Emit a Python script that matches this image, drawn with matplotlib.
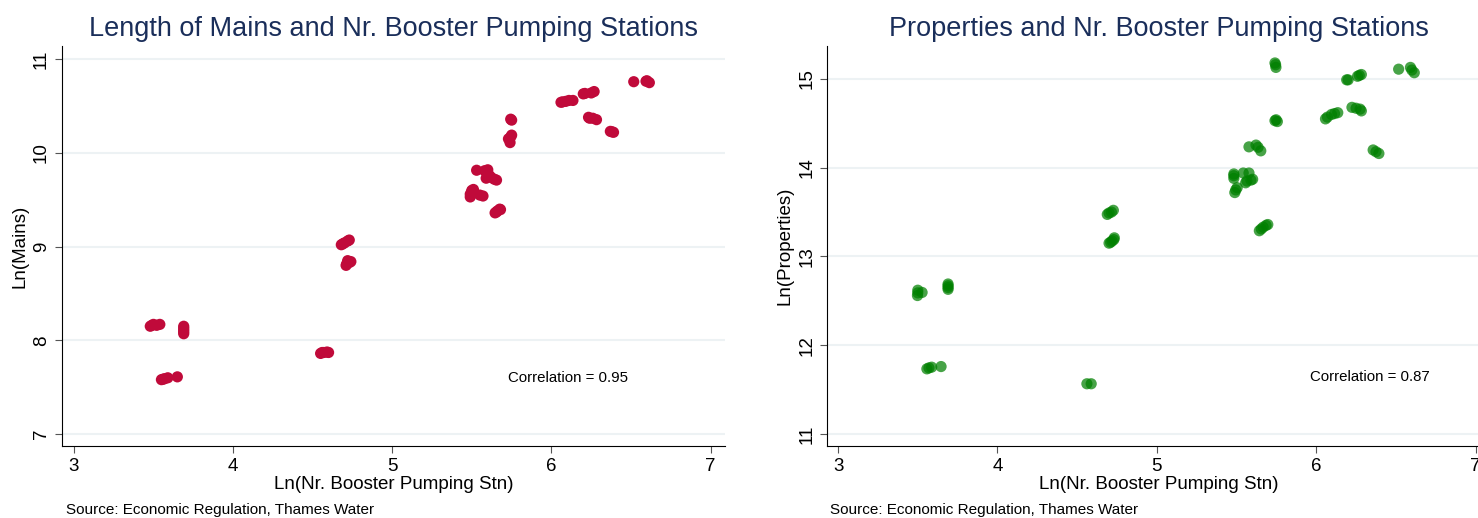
import numpy as np
import matplotlib.pyplot as plt

plt.rcParams['font.family'] = ['Liberation Sans', 'DejaVu Sans']

# log number of booster pumping stations vs log length of mains
mains_x = [3.48, 3.49, 3.50, 3.52, 3.54, 3.69, 3.69, 3.69, 3.69, 3.69,
           3.55, 3.56, 3.57, 3.59, 3.65, 4.55, 4.56, 4.57, 4.59, 4.60,
           4.68, 4.69, 4.70, 4.72, 4.73, 4.71, 4.715, 4.72, 4.73, 4.74,
           5.49, 5.49, 5.50, 5.51, 5.50, 5.57, 5.55, 5.53, 5.58, 5.60, 5.59, 5.61,
           5.62, 5.64, 5.655, 5.646, 5.655, 5.66, 5.675, 5.68,
           5.744, 5.75, 5.744, 5.74, 5.75, 5.73,
           6.06, 6.07, 6.09, 6.11, 6.135, 6.20, 6.21, 6.25, 6.268,
           6.233, 6.24, 6.26, 6.283, 6.37, 6.38, 6.39, 6.517, 6.594, 6.60, 6.615]
mains_y = [8.15, 8.16, 8.17, 8.16, 8.17, 8.07, 8.09, 8.11, 8.13, 8.15,
           7.58, 7.585, 7.59, 7.60, 7.61, 7.86, 7.87, 7.87, 7.875, 7.87,
           9.02, 9.03, 9.04, 9.06, 9.07, 8.80, 8.82, 8.85, 8.83, 8.84,
           9.53, 9.56, 9.59, 9.61, 9.60, 9.54, 9.55, 9.815, 9.81, 9.82, 9.73, 9.76,
           9.74, 9.72, 9.71, 9.36, 9.37, 9.38, 9.40, 9.395,
           10.36, 10.35, 10.17, 10.11, 10.19, 10.15,
           10.54, 10.545, 10.55, 10.56, 10.56, 10.63, 10.635, 10.64, 10.655,
           10.38, 10.37, 10.37, 10.355, 10.23, 10.225, 10.22, 10.76, 10.765, 10.77, 10.75]

# log number of booster pumping stations vs log properties
props_x = [3.498, 3.50, 3.50, 3.527, 3.69, 3.69, 3.69, 3.69,
           3.557, 3.57, 3.587, 3.646, 4.561, 4.588,
           4.689, 4.70, 4.715, 4.727, 4.70, 4.71, 4.719, 4.733, 4.73,
           5.483, 5.483, 5.483, 5.489, 5.495, 5.504, 5.542, 5.578, 5.557, 5.565, 5.601, 5.59,
           5.578, 5.622, 5.635, 5.652, 5.643, 5.655, 5.667, 5.685, 5.696,
           5.741, 5.745, 5.747, 5.741, 5.748, 5.756,
           6.058, 6.07, 6.096, 6.115, 6.135, 6.191, 6.20, 6.259, 6.27, 6.283,
           6.224, 6.25, 6.275, 6.283, 6.357, 6.375, 6.393, 6.517, 6.591, 6.60, 6.615]
props_y = [12.56, 12.59, 12.62, 12.595, 12.63, 12.65, 12.67, 12.69,
           11.734, 11.745, 11.753, 11.76, 11.566, 11.566,
           13.474, 13.49, 13.50, 13.52, 13.15, 13.16, 13.175, 13.21, 13.19,
           13.88, 13.91, 13.93, 13.72, 13.75, 13.775, 13.94, 13.94, 13.83, 13.85, 13.87, 13.86,
           14.235, 14.255, 14.23, 14.19, 13.29, 13.31, 13.33, 13.35, 13.36,
           15.18, 15.16, 15.13, 14.53, 14.54, 14.52,
           14.55, 14.57, 14.60, 14.61, 14.62, 14.99, 14.99, 15.03, 15.04, 15.05,
           14.68, 14.67, 14.66, 14.64, 14.20, 14.18, 14.16, 15.11, 15.13, 15.10, 15.07]

mains_corr = 0.95
props_corr = 0.87

navy = '#1a2e5a'
grid_col = '#edf2f4'

fig = plt.figure(figsize=(14.78, 5.18), dpi=100)
ax1 = fig.add_axes([0.0419, 0.139, 0.4486, 0.772])
ax2 = fig.add_axes([0.5595, 0.139, 0.4486, 0.772])

def style(ax, title, ylabel, yticks):
    ax.set_title(title, fontsize=19.5, color=navy, pad=7)
    ax.set_xlabel('Ln(Nr. Booster Pumping Stn)', fontsize=13.5, labelpad=1)
    ax.set_ylabel(ylabel, fontsize=13.5, labelpad=3)
    ax.set_xticks([3, 4, 5, 6, 7])
    ax.set_yticks(yticks)
    ax.tick_params(axis='both', labelsize=13.5, length=5, color='#555555')
    for lab in ax.get_yticklabels():
        lab.set_rotation(90)
        lab.set_va('center')
    ax.grid(axis='y', color=grid_col, linewidth=1.5)
    ax.set_axisbelow(True)
    ax.spines['top'].set_visible(False)
    ax.spines['right'].set_visible(False)

ax1.scatter(mains_x, mains_y, s=65, color='#c00a3a', edgecolors='none', zorder=3)
ax1.set_xlim(2.925, 7.09)
ax1.set_ylim(6.872, 11.14)
style(ax1, 'Length of Mains and Nr. Booster Pumping Stations', 'Ln(Mains)', [7, 8, 9, 10, 11])
ax1.text(5.73, 7.55, f'Correlation = {mains_corr:.2f}', fontsize=10.8)

ax2.scatter(props_x, props_y, s=65, color='#008000', alpha=0.72, edgecolors='none', zorder=3)
ax2.set_xlim(2.93, 7.09)
ax2.set_ylim(10.865, 15.37)
style(ax2, 'Properties and Nr. Booster Pumping Stations', 'Ln(Properties)', [11, 12, 13, 14, 15])
ax2.text(5.96, 11.6, f'Correlation = {props_corr:.2f}', fontsize=10.8)

fig.text(0.0447, 0.002, 'Source: Economic Regulation, Thames Water', fontsize=11, va='bottom')
fig.text(0.5615, 0.002, 'Source: Economic Regulation, Thames Water', fontsize=11, va='bottom')

fig.savefig('out.png', dpi=100)
